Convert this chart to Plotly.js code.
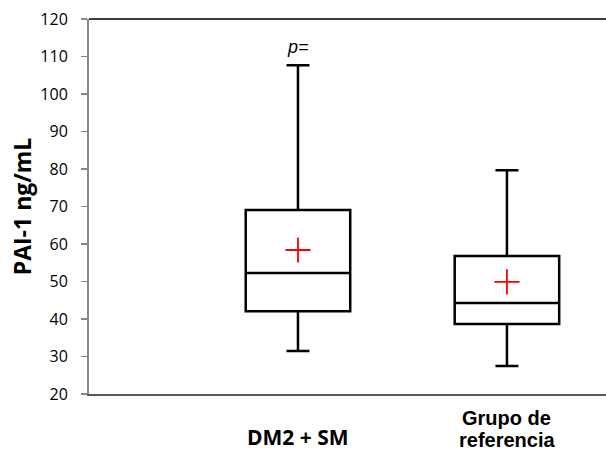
<!DOCTYPE html>
<html>
<head>
<meta charset="utf-8">
<script src="https://cdn.plot.ly/plotly-3.0.1.min.js"></script>
<style>html,body{margin:0;padding:0;background:#fff;}#chart{width:606px;height:450px;}</style>
</head>
<body>
<div id="chart"></div>
<script>
const categories = ['DM2 + SM', 'Grupo de referencia'];
const catLabelLines = [['DM2 + SM'], ['Grupo de', 'referencia']];
const lowerWhisker = [31.5, 27.5];
const q1Values = [42.1, 38.7];
const medianValues = [52.3, 44.3];
const q3Values = [69.1, 56.8];
const upperWhisker = [107.7, 79.7];
const meanValues = [58.4, 49.9];
const pLabel = 'p=';
const pLabelY = 112.5;

const traces = categories.map((c, i) => ({
  type: 'box',
  x: [c],
  q1: [q1Values[i]],
  median: [medianValues[i]],
  q3: [q3Values[i]],
  lowerfence: [lowerWhisker[i]],
  upperfence: [upperWhisker[i]],
  boxpoints: false,
  width: 0.5,
  whiskerwidth: 0.22,
  line: {color: '#000000', width: 2.5},
  fillcolor: '#ffffff',
  hoverinfo: 'skip',
  showlegend: false
}));

traces.push({
  type: 'scatter',
  mode: 'markers',
  x: categories,
  y: meanValues,
  marker: {symbol: 'cross-thin', size: 18, color: '#ff0000', line: {color: '#ff0000', width: 1.8}},
  showlegend: false,
  hoverinfo: 'skip'
});

// pixel centres of each label line (plot area spans y=19..394)
const labelPixelY = [[437], [418, 440]];
const labelFonts = [
  {family: 'Open Sans, sans-serif', size: 21, color: '#000'},
  {family: 'Liberation Sans, Arial, sans-serif', size: 20, color: '#000'}
];
const annotations = [];
categories.forEach((c, i) => {
  catLabelLines[i].forEach((line, j) => {
    annotations.push({
      x: c, xref: 'x',
      y: (394 - labelPixelY[i][j]) / (394 - 19), yref: 'paper',
      yanchor: 'middle',
      text: '<b>' + line + '</b>',
      showarrow: false,
      font: labelFonts[i]
    });
  });
});

annotations.push({
  x: categories[0], xref: 'x', y: pLabelY, yref: 'y',
  text: '<i>' + pLabel + '</i>', showarrow: false,
  font: {family: 'Liberation Sans, Arial, sans-serif', size: 18, color: '#000'}
});

const layout = {
  width: 606, height: 450,
  margin: {l: 89, r: 0, t: 19, b: 56},
  paper_bgcolor: '#fff', plot_bgcolor: '#fff',
  xaxis: {
    type: 'category',
    categoryorder: 'array', categoryarray: categories,
    range: [-1, 1.474],
    showticklabels: false, ticks: '',
    showgrid: false, zeroline: false,
    showline: true, linecolor: '#595959', linewidth: 2,
    fixedrange: true
  },
  yaxis: {
    range: [20, 120], dtick: 10, tick0: 20,
    ticks: 'outside', ticklen: 6, tickwidth: 1.5, tickcolor: '#868686',
    ticklabelstandoff: 10,
    showline: true, linecolor: '#868686', linewidth: 2,
    showgrid: false, zeroline: false,
    tickfont: {family: 'Open Sans, sans-serif', size: 16, color: '#000'},
    title: {text: '<b>PAI-1 ng/mL</b>', font: {family: 'Open Sans, sans-serif', size: 23, color: '#000'}, standoff: 2},
    fixedrange: true
  },
  shapes: [{
    type: 'line', xref: 'paper', yref: 'paper', x0: 0, x1: 1, y0: 1, y1: 1,
    line: {color: '#000', width: 1.5}
  }],
  annotations: annotations
};

Plotly.newPlot('chart', traces, layout, {displayModeBar: false, staticPlot: true});
</script>
</body>
</html>
